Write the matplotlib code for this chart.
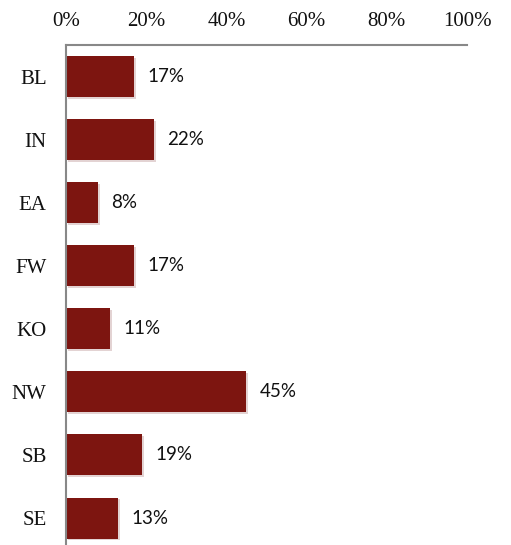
import matplotlib
matplotlib.use("Agg")
import matplotlib.pyplot as plt
from matplotlib.ticker import FuncFormatter

categories = ["BL", "IN", "EA", "FW", "KO", "NW", "SB", "SE"]
values = [17, 22, 8, 17, 11, 45, 19, 13]
xticks = [0, 20, 40, 60, 80, 100]

fig = plt.figure(figsize=(5.11, 5.45), dpi=100)
ax = fig.add_axes([66/511, 1 - 549.6/545, 401/511, (549.6 - 45)/545])

y = list(range(len(categories)))
bar_color = "#7D1510"
# subtle shadow
ax.barh([v + 0.03 for v in y], values, left=0.4, height=0.65, color="#e3d3d3", zorder=1)
ax.barh(y, values, height=0.65, color=bar_color, zorder=2)

for yi, v in zip(y, values):
    ax.text(v + 3.2, yi, f"{v}%", va="center", ha="left", fontsize=13.5,
            family="Lato", color="#111111")

ax.set_xlim(0, 100)
ax.set_ylim(len(categories) - 0.5, -0.5)
ax.set_xticks(xticks)
ax.xaxis.set_major_formatter(FuncFormatter(lambda x, p: f"{int(x)}%"))
ax.xaxis.tick_top()
ax.set_yticks(y)
ax.set_yticklabels(categories)
ax.tick_params(axis="both", length=0, labelsize=15)
ax.tick_params(axis="y", pad=14)
ax.tick_params(axis="x", pad=10)
for lab in ax.get_xticklabels() + ax.get_yticklabels():
    lab.set_family("Liberation Serif")
    lab.set_color("#111111")

for s in ["right", "bottom"]:
    ax.spines[s].set_visible(False)
for s in ["top", "left"]:
    ax.spines[s].set_color("#888888")
    ax.spines[s].set_linewidth(1.5)

fig.savefig("out.png", dpi=100)
